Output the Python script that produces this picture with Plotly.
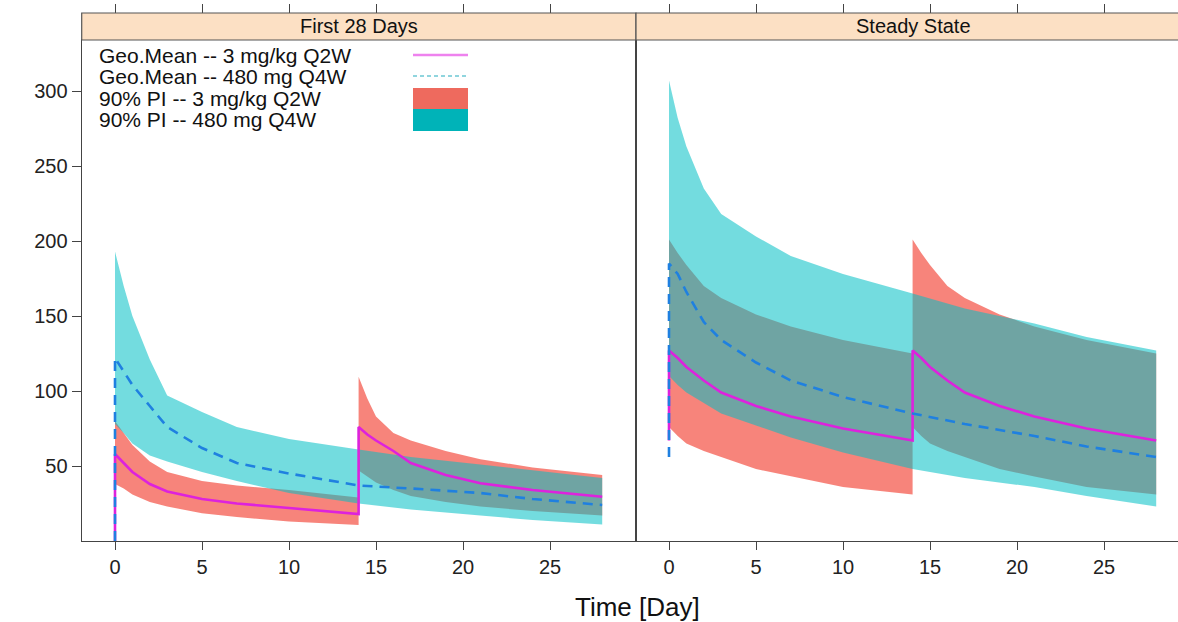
import plotly.graph_objects as go

# ---------------- data ----------------
DAYS_Q2W = [0, 0.5, 1, 2, 3, 5, 7, 10, 14, 14, 14.5, 15, 16, 17, 19, 21, 24, 28]
DAYS_Q4W = [0, 0.5, 1, 2, 3, 5, 7, 10, 14, 17, 21, 24, 28]
MEAN_DAYS_Q2W = [0] + DAYS_Q2W
MEAN_DAYS_Q4W = [0] + DAYS_Q4W

# First 28 days
F28_Q2W_UPPER = [80, 72, 64, 53, 46, 40, 37, 34, 29, 109.5, 95, 83, 72, 67, 60, 54.5, 49, 44]
F28_Q2W_LOWER = [38, 35, 31, 26, 23, 18.5, 16, 13, 10.7, 47, 43, 39, 34, 30, 26, 23, 20, 17]
F28_Q2W_MEAN = [0, 58, 52, 46, 38, 33, 28, 25, 22, 18, 76, 71, 67, 60, 52, 44, 38.5, 34, 29.5]
F28_Q4W_UPPER = [193, 170, 150, 121, 97, 86, 76, 68, 61, 56, 51, 47, 42]
F28_Q4W_LOWER = [78, 72, 65, 57, 53, 46, 40, 32, 25, 21, 17, 14, 11]
F28_Q4W_MEAN = [0, 122, 113, 104, 90, 76, 62, 52, 45, 37, 35, 32, 28, 24]

# Steady state
SS_Q2W_UPPER = [201, 192, 184, 170, 162, 151, 143, 134, 125, 201, 192, 184, 170, 162, 151, 143, 134, 125]
SS_Q2W_LOWER = [76, 70, 65, 60, 56, 48, 43, 36, 31, 76, 70, 65, 60, 56, 48, 43, 36, 31]
SS_Q2W_MEAN = [67, 127, 122, 116, 107, 99, 90, 83, 75, 67, 127, 122, 116, 107, 99, 90, 83, 75, 67]
SS_Q4W_UPPER = [307, 282, 263, 235, 218, 203, 190, 178, 165, 155, 145, 136, 127]
SS_Q4W_LOWER = [110, 104, 99, 92, 85, 77, 69, 59, 48, 42, 36, 30, 23]
SS_Q4W_MEAN = [56, 185, 178, 166, 146, 134, 119, 107, 96, 85, 78, 70, 63, 56]

PANELS = ["First 28 Days", "Steady State"]
X_TICKS = [0, 5, 10, 15, 20, 25]
Y_TICKS = [50, 100, 150, 200, 250, 300]
LEGEND_LABELS = ["Geo.Mean -- 3 mg/kg Q2W", "Geo.Mean -- 480 mg Q4W",
                 "90% PI -- 3 mg/kg Q2W", "90% PI -- 480 mg Q4W"]

# ---------------- styling ----------------
W, H = 1178, 622
FONT = "Liberation Sans, Arial, Helvetica, sans-serif"
PINK_FILL = "rgba(246,110,100,0.85)"
CYAN_FILL = "rgba(0,191,196,0.55)"
MAGENTA = "#DD22DD"
BLUE = "#1F80E0"
AX = "#444444"


def px(x):
    return x / W


def py(y):
    return 1 - y / H


fig = go.Figure()


def band(days, upper, lower, color, xa, ya):
    fig.add_trace(go.Scatter(
        x=list(days) + list(days)[::-1],
        y=list(upper) + list(lower)[::-1],
        fill="toself", fillcolor=color, mode="lines", line=dict(width=0),
        xaxis=xa, yaxis=ya, showlegend=False, hoverinfo="skip"))


def mean_line(days, vals, color, dash, xa, ya):
    fig.add_trace(go.Scatter(
        x=days, y=vals, mode="lines",
        line=dict(color=color, width=2.6, dash=dash),
        xaxis=xa, yaxis=ya, showlegend=False, hoverinfo="skip"))


band(DAYS_Q2W, F28_Q2W_UPPER, F28_Q2W_LOWER, PINK_FILL, "x", "y")
band(DAYS_Q2W, SS_Q2W_UPPER, SS_Q2W_LOWER, PINK_FILL, "x2", "y2")
band(DAYS_Q4W, F28_Q4W_UPPER, F28_Q4W_LOWER, CYAN_FILL, "x", "y")
band(DAYS_Q4W, SS_Q4W_UPPER, SS_Q4W_LOWER, CYAN_FILL, "x2", "y2")
mean_line(MEAN_DAYS_Q2W, F28_Q2W_MEAN, MAGENTA, "solid", "x", "y")
mean_line(MEAN_DAYS_Q2W, SS_Q2W_MEAN, MAGENTA, "solid", "x2", "y2")
mean_line(MEAN_DAYS_Q4W, F28_Q4W_MEAN, BLUE, "10px,7px", "x", "y")
mean_line(MEAN_DAYS_Q4W, SS_Q4W_MEAN, BLUE, "10px,7px", "x2", "y2")

# invisible anchors for the top tick axes
fig.add_trace(go.Scatter(x=[0], y=[-50], mode="markers", marker=dict(opacity=0),
                         xaxis="x3", yaxis="y", showlegend=False, hoverinfo="skip"))
fig.add_trace(go.Scatter(x=[0], y=[-50], mode="markers", marker=dict(opacity=0),
                         xaxis="x4", yaxis="y2", showlegend=False, hoverinfo="skip"))

X1_RANGE = [(81.7 - 115) / 17.4, (636 - 115) / 17.4]
X2_RANGE = [(636 - 669) / 17.4, (1178 - 669) / 17.4]
Y_RANGE = [0, 334]
Y_DOMAIN = [py(541), py(40)]

xcommon = dict(tickvals=X_TICKS, ticks="outside", ticklen=8, tickwidth=1.2, tickcolor=AX,
               showline=True, linecolor=AX, linewidth=1.2, mirror=True,
               showgrid=False, zeroline=False,
               tickfont=dict(size=20, color="#222", family=FONT))
topcommon = dict(tickvals=X_TICKS, ticks="outside", ticklen=9, tickwidth=1.2, tickcolor=AX,
                 showticklabels=False, showline=False, showgrid=False, zeroline=False,
                 anchor="free", position=py(13), side="top")

fig.update_layout(
    width=W, height=H, margin=dict(l=0, r=0, t=0, b=0), autosize=False,
    paper_bgcolor="white", plot_bgcolor="white",
    font=dict(family=FONT, color="#222"),
    xaxis=dict(domain=[px(81.7), px(636)], range=X1_RANGE, anchor="y", **xcommon),
    xaxis2=dict(domain=[px(636), 1.0], range=X2_RANGE, anchor="y2", **xcommon),
    xaxis3=dict(overlaying="x", range=X1_RANGE, **topcommon),
    xaxis4=dict(overlaying="x2", range=X2_RANGE, **topcommon),
    yaxis=dict(domain=Y_DOMAIN, range=Y_RANGE, anchor="x", tickvals=Y_TICKS,
               ticks="outside", ticklen=9, tickwidth=1.2, tickcolor=AX,
               showline=True, linecolor=AX, linewidth=1.2, mirror=True,
               showgrid=False, zeroline=False,
               tickfont=dict(size=20, color="#222", family=FONT)),
    yaxis2=dict(domain=Y_DOMAIN, range=Y_RANGE, anchor="x2", showticklabels=False,
                ticks="", showline=True, linecolor=AX, linewidth=1.2, mirror=False,
                showgrid=False, zeroline=False),
)

shapes = []
annotations = []
# strips
STRIP_FILL = "#FCE0C4"
shapes.append(dict(type="rect", xref="paper", yref="paper", x0=px(81.7), x1=px(636),
                   y0=py(40), y1=py(13), fillcolor=STRIP_FILL, line=dict(color="#555", width=1.2)))
shapes.append(dict(type="rect", xref="paper", yref="paper", x0=px(636), x1=px(1195),
                   y0=py(40), y1=py(13), fillcolor=STRIP_FILL, line=dict(color="#555", width=1.2)))
annotations.append(dict(text=PANELS[0], x=px(358.8), y=py(26.5), xref="paper", yref="paper",
                        showarrow=False, xanchor="center", yanchor="middle",
                        font=dict(size=20, color="#111", family=FONT)))
annotations.append(dict(text=PANELS[1], x=px(913), y=py(26.5), xref="paper", yref="paper",
                        showarrow=False, xanchor="center", yanchor="middle",
                        font=dict(size=20, color="#111", family=FONT)))

# legend (text on the left, keys on the right, like the lattice key)
rows_y = [55, 77, 99, 120]
for lab, yy in zip(LEGEND_LABELS, rows_y):
    annotations.append(dict(text=lab, x=px(97), y=py(yy), xref="paper", yref="paper",
                            showarrow=False, xanchor="left", yanchor="middle",
                            font=dict(size=21, color="#111", family=FONT)))
shapes.append(dict(type="line", xref="paper", yref="paper", x0=px(413), x1=px(468),
                   y0=py(55), y1=py(55), line=dict(color="#EE82EE", width=2.5)))
shapes.append(dict(type="line", xref="paper", yref="paper", x0=px(413), x1=px(468),
                   y0=py(76), y1=py(76), line=dict(color="#6CC8D4", width=1.5, dash="4px,3px")))
shapes.append(dict(type="rect", xref="paper", yref="paper", x0=px(413), x1=px(468),
                   y0=py(109), y1=py(88), fillcolor="#EE6A5E", line=dict(width=0)))
shapes.append(dict(type="rect", xref="paper", yref="paper", x0=px(413), x1=px(468),
                   y0=py(131), y1=py(109), fillcolor="#00B3B8", line=dict(width=0)))

annotations.append(dict(text="Time [Day]", x=px(637), y=py(607), xref="paper", yref="paper",
                        showarrow=False, xanchor="center", yanchor="middle",
                        font=dict(size=26, color="#111", family=FONT)))

fig.update_layout(shapes=shapes, annotations=annotations)
fig.write_html("out.html")
